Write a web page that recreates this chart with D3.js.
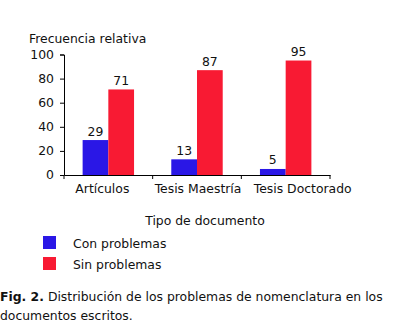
<!DOCTYPE html>
<html><head><meta charset="utf-8">
<script src="https://cdn.jsdelivr.net/npm/d3@7"></script>
<style>body{margin:0;background:#fff}svg{display:block}text{font-family:"DejaVu Sans",Verdana,sans-serif;fill:#111}</style>
</head><body><svg id="c" width="408" height="324"></svg>
<script>
const categories = ["Artículos", "Tesis Maestría", "Tesis Doctorado"];
const seriesNames = ["Con problemas", "Sin problemas"];
const conProblemas = [29, 13, 5];
const sinProblemas = [71, 87, 95];
const yTicks = [0, 20, 40, 60, 80, 100];
const colors = ["#2a17e6", "#f81a33"];

const FS = 12.4;
const svg = d3.select("#c");
const x0 = d3.scaleBand().domain(categories).range([64, 330]).padding(0);
const bw = x0.bandwidth();
const x1 = d3.scaleBand().domain(seriesNames).range([bw * 0.21, bw * 0.79]).padding(0);
const y = d3.scaleLinear().domain([0, 100]).range([175, 54.5]);

const data = categories.map((c, i) => ({cat: c, vals: [conProblemas[i], sinProblemas[i]]}));

const g = svg.append("g");
data.forEach(d => {
  d.vals.forEach((v, j) => {
    g.append("rect").attr("x", x0(d.cat) + x1(seriesNames[j])).attr("y", y(v))
      .attr("width", x1.bandwidth()).attr("height", y(0) - y(v)).attr("fill", colors[j]);
    g.append("text").attr("x", x0(d.cat) + x1(seriesNames[j]) + x1.bandwidth() / 2)
      .attr("y", y(v) - 4.5).attr("text-anchor", "middle").attr("font-size", FS).text(v);
  });
});

const yAxis = svg.append("g").attr("transform", "translate(64,0)")
  .call(d3.axisLeft(y).tickValues(yTicks).tickSize(4).tickPadding(6));
yAxis.select(".domain").attr("stroke", "#000");
yAxis.selectAll("text").attr("font-size", FS).style("font-family", '"DejaVu Sans",Verdana,sans-serif').attr("fill", "#111");

const xAxis = svg.append("g").attr("transform", "translate(0,175)")
  .call(d3.axisBottom(x0).tickSize(0).tickPadding(9));
xAxis.select(".domain").attr("stroke", "#000");
// label shifts as drawn in the original (labels not strictly band-centred)
const labelShift = [-6, 1, 17];
xAxis.selectAll(".tick text").attr("font-size", FS)
  .attr("dx", (d, i) => labelShift[i])
  .style("font-family", '"DejaVu Sans",Verdana,sans-serif').attr("fill", "#111");
const bounds = categories.map(c => x0(c)).concat([x0(categories[categories.length - 1]) + bw]);
svg.append("g").selectAll("line").data(bounds).join("line")
  .attr("x1", d => d).attr("x2", d => d).attr("y1", 175).attr("y2", 179).attr("stroke", "#000");

svg.append("text").attr("x", 29).attr("y", 43).attr("font-size", FS).text("Frecuencia relativa");
svg.append("text").attr("x", 205).attr("y", 225).attr("text-anchor", "middle").attr("font-size", FS).text("Tipo de documento");

const leg = svg.append("g");
seriesNames.forEach((s, i) => {
  leg.append("rect").attr("x", 43).attr("y", 236 + i * 21).attr("width", 13).attr("height", 13).attr("fill", colors[i]);
  leg.append("text").attr("x", 73).attr("y", 248 + i * 20.5).attr("font-size", FS).text(s);
});

const cap = svg.append("text").attr("font-size", FS);
const l1 = cap.append("tspan").attr("x", 0).attr("y", 301);
l1.append("tspan").attr("font-weight", "bold").text("Fig. 2.");
l1.append("tspan").text(" Distribución de los problemas de nomenclatura en los");
cap.append("tspan").attr("x", 0).attr("y", 320).text("documentos escritos.");
</script></body></html>
